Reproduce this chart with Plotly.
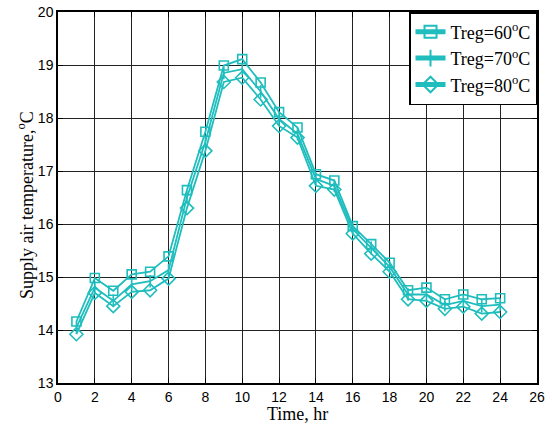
import plotly.graph_objects as go

hours = list(range(1, 25))
t60 = [14.16, 14.98, 14.74, 15.05, 15.10, 15.39, 16.64, 17.74, 18.99, 19.11, 18.67, 18.11,
       17.82, 16.94, 16.82, 15.96, 15.62, 15.27, 14.75, 14.80, 14.58, 14.67, 14.58, 14.60]
t70 = [14.05, 14.80, 14.55, 14.86, 14.92, 15.13, 16.50, 17.55, 18.85, 18.92, 18.50, 17.98,
       17.70, 16.85, 16.72, 15.90, 15.55, 15.19, 14.67, 14.67, 14.47, 14.55, 14.45, 14.48]
t80 = [13.92, 14.70, 14.45, 14.72, 14.75, 14.97, 16.30, 17.38, 18.68, 18.76, 18.35, 17.85,
       17.63, 16.72, 16.65, 15.82, 15.44, 15.10, 14.58, 14.55, 14.40, 14.44, 14.31, 14.34]
names = ["Treg=60<sup>o</sup>C", "Treg=70<sup>o</sup>C", "Treg=80<sup>o</sup>C"]
symbols = ["square-open", "line-ns-open", "diamond-open"]
sizes = [9, 9, 10]
color = "#1FBDBD"
x_title = "Time, hr"
y_title = "Supply air temperature,<sup>o</sup>C"

fig = go.Figure()
for ys, nm, sym, sz in zip([t60, t70, t80], names, symbols, sizes):
    fig.add_trace(go.Scatter(
        x=hours, y=ys, name=nm, mode="lines+markers",
        line=dict(color=color, width=1.8),
        marker=dict(symbol=sym, size=sz, color=color, line=dict(color=color, width=1.6)),
    ))

axis_common = dict(
    showgrid=True, gridcolor="#222222", gridwidth=1,
    showline=True, linecolor="black", linewidth=1.5, mirror="ticks",
    ticks="inside", ticklen=5, tickcolor="black",
    zeroline=False, automargin=False,
    tickfont=dict(family="Liberation Sans, Arial", size=14, color="black"),
)

title_font = dict(family="Liberation Serif, Times New Roman", size=18, color="black")

fig.update_layout(
    width=552, height=425,
    margin=dict(l=58, r=15, t=12, b=42),
    paper_bgcolor="white", plot_bgcolor="white",
    xaxis=dict(range=[0, 26], dtick=2, tick0=0, **axis_common),
    yaxis=dict(range=[13, 20], dtick=1, **axis_common),
    legend=dict(x=1, y=1, xanchor="right", yanchor="top",
                bgcolor="white", bordercolor="black", borderwidth=1.5,
                font=dict(family="Liberation Serif, Times New Roman", size=18, color="black"),
                tracegroupgap=0, itemsizing="constant"),
    showlegend=True,
    annotations=[
        dict(text=x_title, xref="paper", yref="paper", x=0.5, y=0, yshift=-31,
             xanchor="center", yanchor="middle", showarrow=False, font=title_font),
        dict(text=y_title, xref="paper", yref="paper", x=0, y=0.48, xshift=-32,
             xanchor="center", yanchor="middle", textangle=-90, showarrow=False, font=title_font),
    ],
)

fig.write_html("out.html")
